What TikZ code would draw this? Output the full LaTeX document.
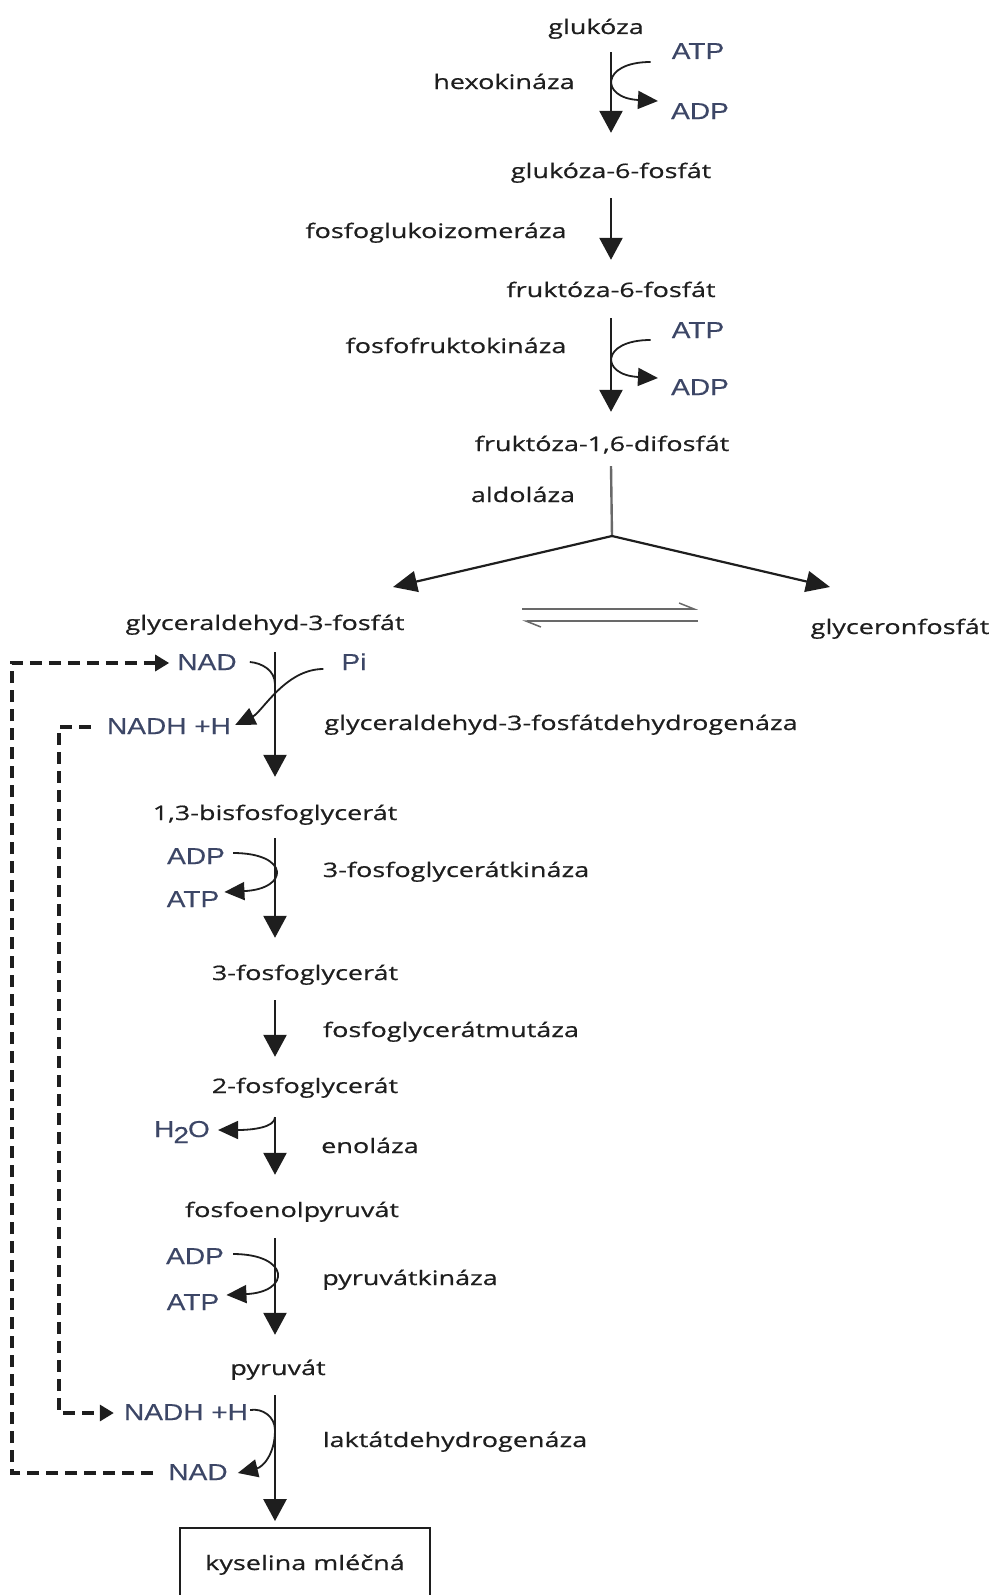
\documentclass[tikz,border=0pt]{standalone}
\usepackage{fontspec}
\setmainfont{Open Sans}[FakeStretch=1.35,FakeBold=0.6]
\newfontfamily\cofont{Liberation Sans}[FakeStretch=1.22,FakeBold=0.3]
\usetikzlibrary{arrows.meta,calc}
\definecolor{ink}{RGB}{30,30,30}
\definecolor{cofblue}{RGB}{60,70,102}
\definecolor{eqgray}{RGB}{105,105,105}
\tikzset{
  mol/.style={inner sep=0pt,text height=15pt,text depth=5pt,text=ink,
    font=\fontsize{20}{24}\selectfont},
  cof/.style={inner sep=0pt,text height=17pt,text depth=3pt,text=cofblue,
    font=\cofont\fontsize{23}{26}\selectfont},
  reaction/.style={draw=ink,line width=2.6pt,-{Triangle[length=22pt,width=23pt]}},
  fork/.style={draw=ink,line width=2.2pt,-{Triangle[length=24pt,width=21pt]}},
  stem/.style={draw=eqgray,line width=2.4pt},
  side/.style={draw=ink,line width=1.8pt,-{Triangle[length=20pt,width=18pt]}},
  joinline/.style={draw=ink,line width=1.8pt},
  recycle/.style={draw=ink,line width=3.2pt,dash pattern=on 12pt off 7pt,
    -{Triangle[length=14pt,width=16pt]}},
  harp/.style={draw=eqgray,line width=1.5pt,-{Straight Barb[harpoon,length=15pt,width=12pt]}},
}
\newcommand{\reactarrow}[5]{%
  \draw[reaction,shorten <=#4pt,shorten >=#5pt] (#1.south -| #3) -- (#2.north -| #3);
}

\begin{document}
\begin{tikzpicture}[x=1pt,y=-1pt]
  \useasboundingbox (0,0) rectangle (995,1595);
  \clip (0,0) rectangle (995,1595);
  \coordinate (axisA) at (611,0);% upper reaction line
  \coordinate (axisB) at (275,0);% lower reaction line
  \coordinate (split) at (612,536);
  \coordinate (loopO) at (12,0);
  \coordinate (loopI) at (59,0);
  \coordinate (eqL) at (522,615);
  \coordinate (eqR) at (698,615);

  % hexose part
  \node[mol] (glu) at (596,29) {glukóza};
  \node[cof] (atpA) at (698,52) {ATP};
  \node[mol] (hexo) at (504,84) {hexokináza};
  \node[cof] (adpA) at (700,112) {ADP};
  \node[mol] (g6p) at (611,173) {glukóza-6-fosfát};
  \node[mol] (pgi) at (436,233) {fosfoglukoizomeráza};
  \node[mol] (f6p) at (611,292) {fruktóza-6-fosfát};
  \node[cof] (atpB) at (698,331) {ATP};
  \node[mol] (pfk) at (456,348) {fosfofruktokináza};
  \node[cof] (adpB) at (700,388) {ADP};
  \node[mol] (f16) at (602,446) {fruktóza-1,6-difosfát};
  \node[mol] (aldo) at (523,497) {aldoláza};
  \node[mol] (gap) at (265,625) {glyceraldehyd-3-fosfát};
  \node[mol] (dhap) at (900,629) {glyceronfosfát};

  % triose part
  \node[cof] (nadA) at (207,663) {NAD};
  \node[cof] (phos) at (354,663) {Pi};
  \node[cof] (nadhA) at (169,727) {NADH +H};
  \node[mol] (gapdh) at (561,725) {glyceraldehyd-3-fosfátdehydrogenáza};
  \node[mol] (bpg) at (275,815) {1,3-bisfosfoglycerát};
  \node[cof] (adpC) at (196,857) {ADP};
  \node[cof] (atpC) at (193,900) {ATP};
  \node[mol] (pgk) at (456,872) {3-fosfoglycerátkináza};
  \node[mol] (p3g) at (305,975) {3-fosfoglycerát};
  \node[mol] (pgm) at (451,1032) {fosfoglycerátmutáza};
  \node[mol] (p2g) at (305,1088) {2-fosfoglycerát};
  \node[cof] (h2o) at (182,1130) {H\kern-1pt\raisebox{-6pt}{2}\kern-1pt O};
  \node[mol] (eno) at (370,1148) {enoláza};
  \node[mol] (pep) at (292,1212) {fosfoenolpyruvát};
  \node[cof] (adpD) at (195,1257) {ADP};
  \node[cof] (atpD) at (193,1303) {ATP};
  \node[mol] (pk) at (410,1280) {pyruvátkináza};
  \node[mol] (pyr) at (278,1370) {pyruvát};
  \node[cof] (nadhB) at (186,1413) {NADH +H};
  \node[mol] (ldh) at (455,1442) {laktátdehydrogenáza};
  \node[cof] (nadB) at (198,1473) {NAD};
  \node[mol,draw=ink,line width=1.8pt,minimum width=250pt,minimum height=74pt] (lak) at (305,1565) {kyselina mléčná};

  % main arrows
  \reactarrow{glu}{g6p}{axisA}{13}{30}
  \reactarrow{g6p}{f6p}{axisA}{15}{22}
  \reactarrow{f6p}{f16}{axisA}{16}{24}
  \reactarrow{gap}{bpg}{axisB}{17}{28}
  \reactarrow{bpg}{p3g}{axisB}{13}{27}
  \reactarrow{p3g}{p2g}{axisB}{15}{21}
  \reactarrow{p2g}{pep}{axisB}{19}{27}
  \reactarrow{pep}{pyr}{axisB}{16}{25}
  \reactarrow{pyr}{lak}{axisB}{15}{6}

  % cofactors
  \draw[side] ($(atpA.west)+(-21,10)$) .. controls +(-50,0) and +(-58,-3) .. ($(adpA.west)+(-13,-11)$);
  \draw[side] ($(atpB.west)+(-21,9)$) .. controls +(-50,0) and +(-58,-3) .. ($(adpB.west)+(-13,-10)$);
  \draw[joinline] ($(nadA.east)+(13,-1)$) .. controls +(12,1) and +(0,-14) .. ($(gap.south -| axisB)+(0,49)$);
  \draw[side] ($(phos.west)+(-18,6)$) .. controls +(-38,0) and +(27,-13) .. ($(nadhA.east)+(4,-2)$);
  \draw[side] ($(adpC.east)+(8,-4)$) .. controls +(57,0) and +(65,-3) .. ($(atpC.east)+(5,-8)$);
  \draw[side] ($(p2g.south -| axisB)+(0,19)$) .. controls +(0,10) and +(35,0) .. ($(h2o.east)+(8,0)$);
  \draw[side] ($(adpD.east)+(9,-3)$) .. controls +(57,0) and +(65,-3) .. ($(atpD.east)+(7,-8)$);
  \draw[side] ($(nadhB.east)+(2,-3)$) .. controls +(12,-2) and +(0,-14) .. ($(pyr.south -| axisB)+(0,50)$)
    .. controls +(0,24) and +(25,-6) .. ($(nadB.east)+(10,0)$);

  % aldolase split and isomerase
  \draw[stem] ($(f16.south -| axisA)+(0,10)$) -- (split);
  \draw[fork] (split) -- ($(gap)+(128,-38)$);
  \draw[fork] (split) -- ($(dhap)+(-70,-42)$);
  \draw[harp] ($(eqL)+(0,-6)$) -- ($(eqR)+(0,-6)$);
  \draw[harp] ($(eqR)+(0,6)$) -- ($(eqL)+(0,6)$);

  % NAD recycling
  \draw[recycle] ($(nadB.west)+(-15,0)$) -- (nadB.west -| loopO) -- (nadA.west -| loopO) -- ($(nadA.west)+(-8,0)$);
  \draw[recycle] ($(nadhA.west)+(-16,0)$) -- (nadhA.west -| loopI) -- (nadhB.west -| loopI) -- ($(nadhB.west)+(-10,0)$);
\end{tikzpicture}
\end{document}
